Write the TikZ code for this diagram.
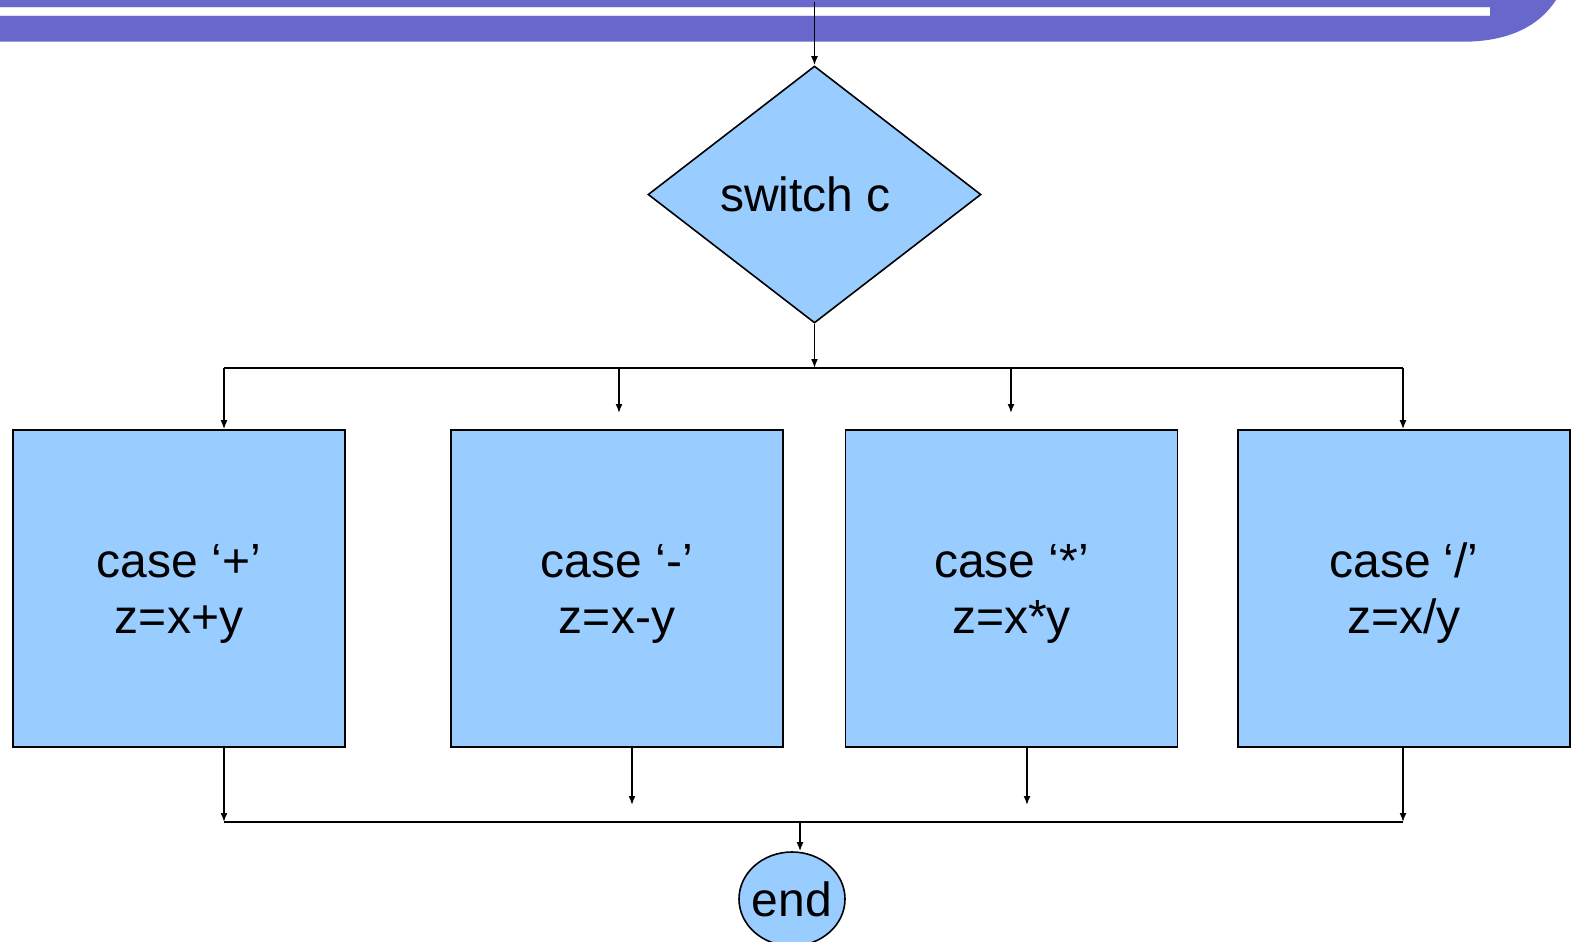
\documentclass[tikz,border=0pt]{standalone}
\usepackage{fontspec}
\setmainfont{Liberation Sans}
\usetikzlibrary{shapes.geometric,arrows.meta}
\definecolor{band}{HTML}{6868CC}
\definecolor{boxfill}{HTML}{99CCFF}
\newcommand{\lift}{\rule{0pt}{43pt}}
\tikzset{
  every node/.style={font=\fontsize{48}{56}\selectfont},
  flow/.style={draw=black,line width=1.6pt,fill=boxfill},
  casebox/.style={flow,rectangle,minimum width=332pt,minimum height=317pt,align=center,inner sep=0pt},
  decision/.style={flow,diamond,aspect=1.3,minimum width=333pt,minimum height=257pt,inner sep=0pt},
  terminal/.style={flow,ellipse,minimum width=106pt,minimum height=94pt,inner xsep=-8pt,inner ysep=0pt},
  wire/.style={line width=1.6pt},
  arr/.style={wire,-{Latex[length=9pt,width=7pt]}}
}
\begin{document}
\begin{tikzpicture}[x=1pt,y=-1pt]
  \useasboundingbox (0,0) rectangle (1577,942);
  % title band with its rounded right end and white stripe
  \fill[band] (0,0) -- (1556,0) .. controls (1540,25) and (1510,41.7) .. (1463,41.7) -- (0,41.7) -- cycle;
  \fill[white] (0,7.3) rectangle (1490,15.3);
  \draw[white!80!band,line width=0.8pt] (0,7.3) -- (1490,7.3) (0,15.3) -- (1490,15.3);

  % nodes
  \node[decision] (sw) at (814.5,194.5) {switch c\kern18pt};
  \node[casebox] (c1) at (179,588.5) {\lift case ‘+’\\z=x+y};
  \node[casebox] (c2) at (617,588.5) {\lift case ‘-’\\z=x-y};
  \node[casebox] (c3) at (1011.5,588.5) {\lift case ‘*’\\z=x*y};
  \node[casebox] (c4) at (1404,588.5) {\lift case ‘/’\\z=x/y};
  \node[terminal] (end) at (792,899) {end};

  % entry
  \coordinate (in) at (814.5,2);
  \draw[arr] (in) -- (sw.north);

  % distribution bus
  \coordinate (busL) at (224,368);
  \coordinate (busM) at (814.5,368);
  \coordinate (busR) at (1403,368);
  \draw[arr] (sw.south) -- (busM);
  \draw[wire] (busL) -- (busR);
  \coordinate (d2) at (619,368);
  \coordinate (d3) at (1011,368);
  \coordinate (e2) at (619,413);
  \coordinate (e3) at (1011,413);
  \draw[arr] (busL) -- (busL |- c1.north);
  \draw[arr] (d2) -- (e2);
  \draw[arr] (d3) -- (e3);
  \draw[arr] (busR) -- (busR |- c4.north);

  % collecting bus
  \coordinate (jL) at (224,822);
  \coordinate (jR) at (1403,822);
  \coordinate (jM) at (800,822);
  \coordinate (f2) at (632,805);
  \coordinate (f3) at (1027,805);
  \draw[arr] (jL |- c1.south) -- (jL);
  \draw[arr] (f2 |- c2.south) -- (f2);
  \draw[arr] (f3 |- c3.south) -- (f3);
  \draw[arr] (jR |- c4.south) -- (jR);
  \draw[wire] (jL) -- (jR);
  \draw[arr] (jM) -- (jM |- end.north);
\end{tikzpicture}
\end{document}
